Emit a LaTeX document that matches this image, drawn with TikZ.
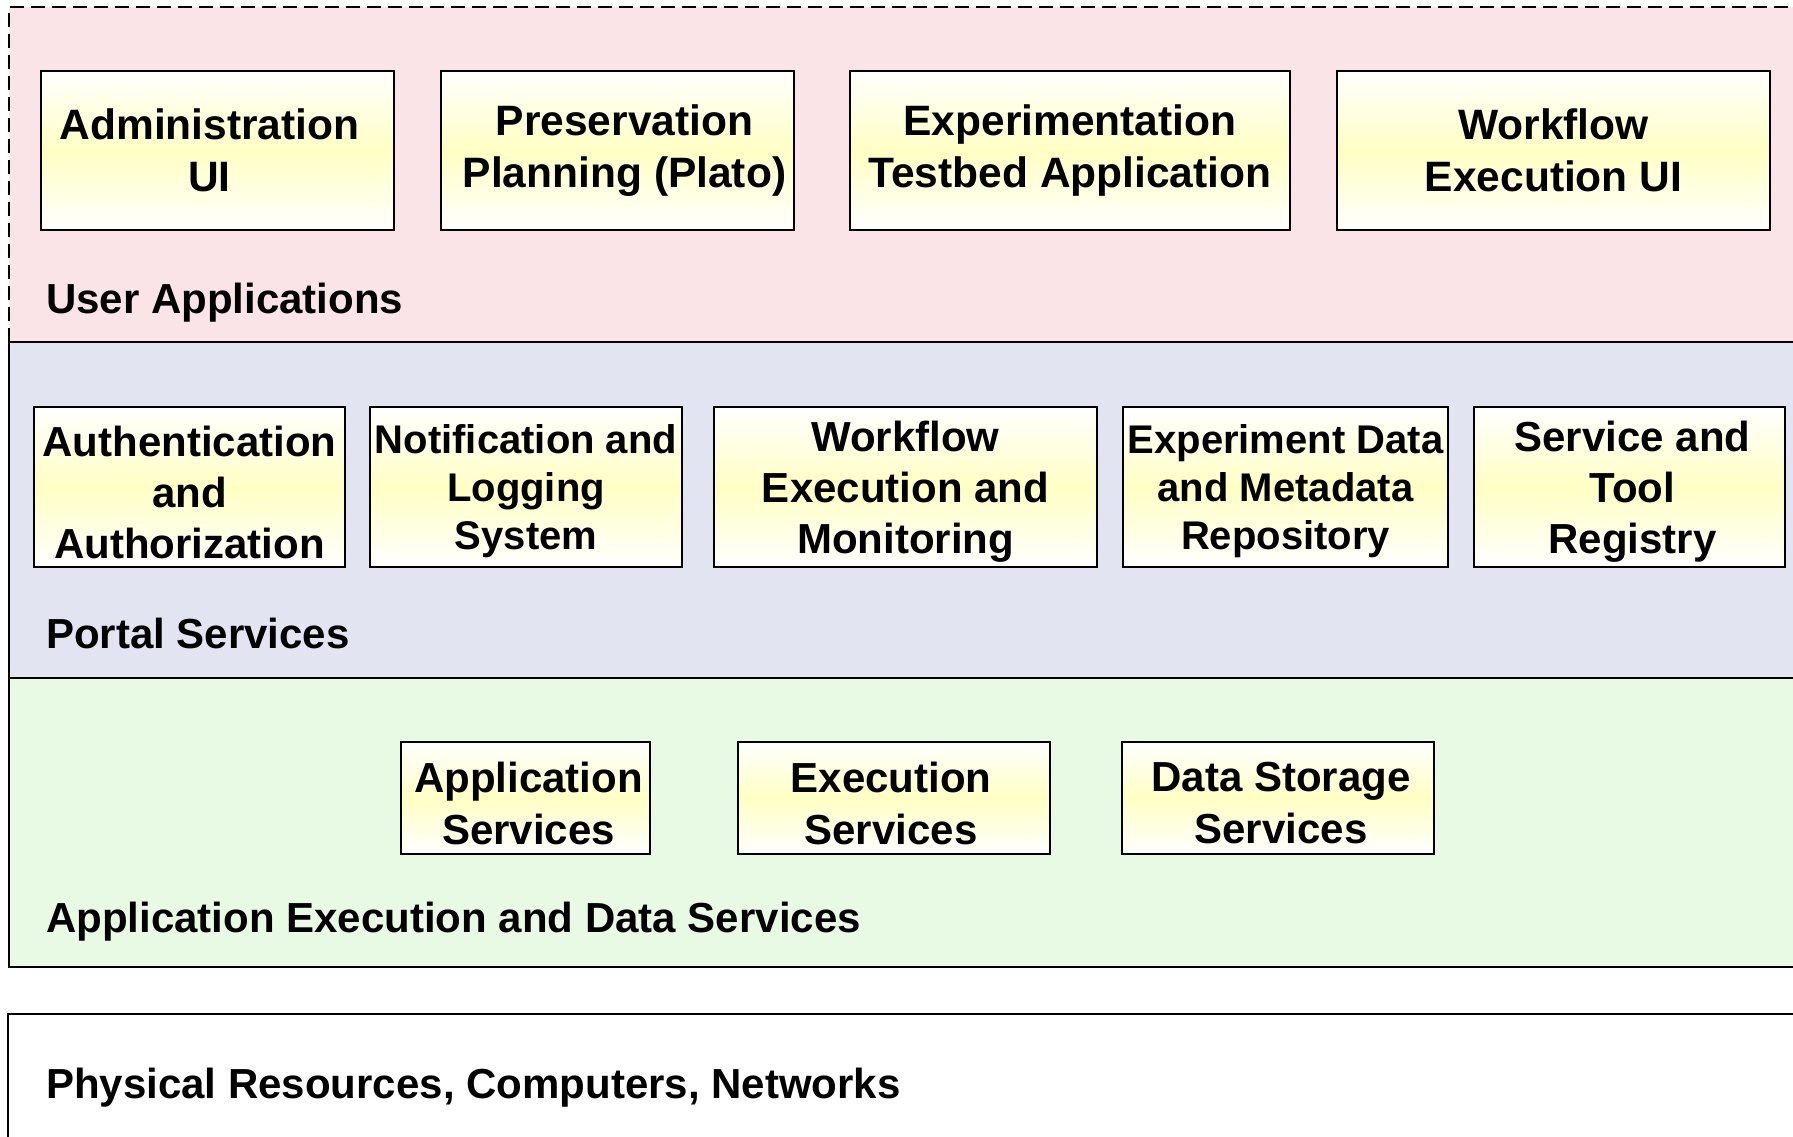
\documentclass[tikz,border=0pt]{standalone}
\usepackage{fontspec}
\setmainfont{Liberation Sans}
\definecolor{uapink}{RGB}{250,228,231}
\definecolor{portalblue}{RGB}{226,228,242}
\definecolor{execgreen}{RGB}{232,249,228}
\definecolor{boxyellow}{RGB}{255,255,196}
\begin{document}
\begin{tikzpicture}[x=1pt,y=-1pt,
  comp/.style={draw=black, line width=2.5pt, top color=white, bottom color=white,
    middle color=boxyellow, align=center, inner sep=0pt},
  bigtxt/.style={font=\fontsize{42.5}{52}\selectfont\bfseries, align=center},
  midtxt/.style={font=\fontsize{42}{51}\selectfont\bfseries, align=center, yshift=-5pt},
  smalltxt/.style={font=\fontsize{40}{48}\selectfont\bfseries, align=center, yshift=-4pt},
  lowtxt/.style={font=\fontsize{42}{52}\selectfont\bfseries, align=center, yshift=-5pt},
  layerlabel/.style={anchor=base west, inner sep=0pt, font=\fontsize{42}{50}\selectfont\bfseries},
  layerline/.style={draw=black, line width=2pt}]
\useasboundingbox (0,0) rectangle (1793,1136);
\clip (0,0) rectangle (1793,1136);

% layers
\fill[uapink] (9,7) rectangle (1810,342);
\draw[line width=2pt, dash pattern=on 14pt off 7pt] (9,342) -- (9,7) -- (1810,7);
\filldraw[fill=portalblue, layerline] (9,342) rectangle (1810,678);
\filldraw[fill=execgreen, layerline] (9,678) rectangle (1810,967);
\filldraw[fill=white, layerline] (8,1014) rectangle (1810,1170);

% user applications
\node[comp, minimum width=353, minimum height=159,
  label={[bigtxt, xshift=-8pt]center:{Administration\\UI}}] (admin) at (217.5,150.5) {};
\node[comp, minimum width=353, minimum height=159,
  label={[bigtxt, xshift=7pt]center:{Preservation\\Planning (Plato)}}] (plato) at (617.5,150.5) {};
\node[comp, minimum width=440, minimum height=159,
  label={[bigtxt]center:{Experimentation\\Testbed Application}}] (testbed) at (1070,150.5) {};
\node[comp, minimum width=433, minimum height=159,
  label={[bigtxt]center:{Workflow\\Execution UI}}] (wfui) at (1553.5,150.5) {};
\node[layerlabel] (ualabel) at (46,313) {User Applications};

% portal services
\node[comp, minimum width=311, minimum height=160,
  label={[midtxt]center:{Authentication\\and\\Authorization}}] (auth) at (189.5,487) {};
\node[comp, minimum width=312, minimum height=160,
  label={[smalltxt]center:{Notification and\\Logging\\System}}] (notif) at (526,487) {};
\node[comp, minimum width=383, minimum height=160,
  label={[midtxt]center:{Workflow\\Execution and\\Monitoring}}] (wfem) at (905.5,487) {};
\node[comp, minimum width=325, minimum height=160,
  label={[smalltxt]center:{Experiment Data\\and Metadata\\Repository}}] (expdata) at (1285.5,487) {};
\node[comp, minimum width=311, minimum height=160,
  label={[midtxt, xshift=3pt]center:{Service and\\Tool\\Registry}}] (registry) at (1629.5,487) {};
\node[layerlabel] (pslabel) at (46,648) {Portal Services};

% application execution and data services
\node[comp, minimum width=249, minimum height=112,
  label={[lowtxt, xshift=3pt]center:{Application\\Services}}] (appsvc) at (525.5,798) {};
\node[comp, minimum width=312, minimum height=112,
  label={[lowtxt, xshift=-3pt]center:{Execution\\Services}}] (execsvc) at (894,798) {};
\node[comp, minimum width=312, minimum height=112,
  label={[lowtxt, xshift=3pt]center:{Data Storage\\Services}}] (datasvc) at (1278,798) {};
\node[layerlabel] (aelabel) at (46,932) {Application Execution and Data Services};

% physical
\node[layerlabel] (phlabel) at (46,1098) {Physical Resources, Computers, Networks};
\end{tikzpicture}
\end{document}
